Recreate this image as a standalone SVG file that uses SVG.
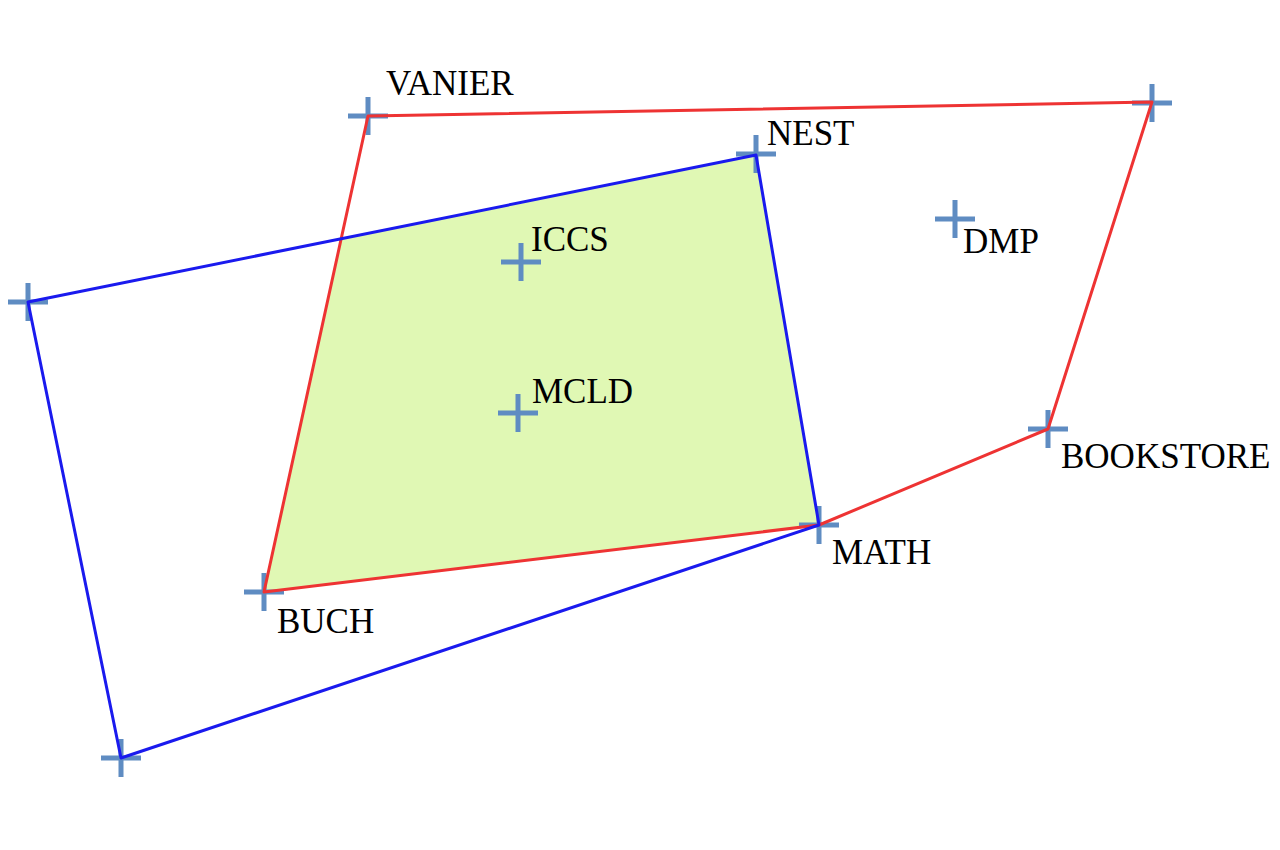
<svg xmlns="http://www.w3.org/2000/svg" width="1280" height="850" viewBox="0 0 1280 850">
<style>
.cross{stroke:#5f8cc2;stroke-width:5;fill:none}
.lbl{font-family:"Liberation Serif","Times New Roman",serif;font-size:35px;fill:#000}
.red{stroke:#ee3333;stroke-width:3;fill:none;stroke-linejoin:round}
.blue{stroke:#1a1aee;stroke-width:3;fill:none;stroke-linejoin:round}
</style>
<defs>
<path id="x" d="M-20,0H20M0,-19V19"/>
</defs>
<rect width="1280" height="850" fill="#fff"/>
<polygon id="intersection" points="264,592 341,239 756,155 819,525" fill="#e0f8b4"/>
<g id="VANIER"><use href="#x" class="cross" x="368" y="116"/><text class="lbl" x="386" y="95">VANIER</text></g>
<g id="TR"><use href="#x" class="cross" x="1152" y="103"/></g>
<g id="NEST"><use href="#x" class="cross" x="756" y="154"/><text class="lbl" x="767" y="145">NEST</text></g>
<g id="LEFT"><use href="#x" class="cross" x="28" y="302"/></g>
<g id="ICCS"><use href="#x" class="cross" x="521" y="262"/><text class="lbl" x="531" y="251">ICCS</text></g>
<g id="DMP"><use href="#x" class="cross" x="955" y="219"/><text class="lbl" x="963" y="253">DMP</text></g>
<g id="MCLD"><use href="#x" class="cross" x="518" y="413"/><text class="lbl" x="532" y="403">MCLD</text></g>
<g id="BOOKSTORE"><use href="#x" class="cross" x="1048" y="429"/><text class="lbl" x="1061" y="468">BOOKSTORE</text></g>
<g id="MATH"><use href="#x" class="cross" x="819" y="525"/><text class="lbl" x="832" y="564">MATH</text></g>
<g id="BUCH"><use href="#x" class="cross" x="264" y="592"/><text class="lbl" x="277" y="633">BUCH</text></g>
<g id="BL"><use href="#x" class="cross" x="121" y="758"/></g>
<g id="connectors">
<polygon class="red" points="368,116 1152,102 1048,429 819,525 264,592"/>
<polygon class="blue" points="28,302 756,155 819,525 121,758"/>
</g>
</svg>
